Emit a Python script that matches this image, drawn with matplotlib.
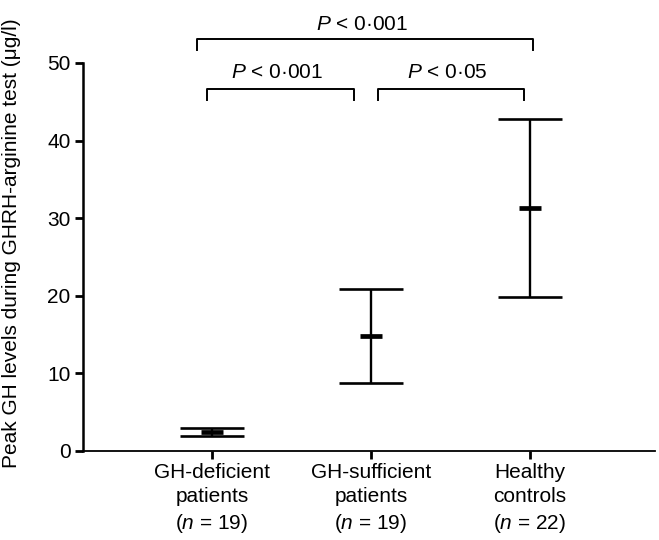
import matplotlib
matplotlib.use("Agg")
import matplotlib.pyplot as plt

plt.rcParams['font.family'] = ['Liberation Sans', 'DejaVu Sans']
plt.rcParams['mathtext.fontset'] = 'custom'
plt.rcParams['mathtext.it'] = 'Liberation Sans:italic'
plt.rcParams['mathtext.rm'] = 'Liberation Sans'

# data (mean and SD)
groups = ["GH-deficient\npatients\n($n$ = 19)",
          "GH-sufficient\npatients\n($n$ = 19)",
          "Healthy\ncontrols\n($n$ = 22)"]
means = [2.4, 14.8, 31.3]
sds = [0.5, 6.0, 11.5]
pvalues = ["$P$ < 0·001", "$P$ < 0·05", "$P$ < 0·001"]
pairs = [(0, 1), (1, 2), (0, 2)]

x = [1, 2, 3]

fig = plt.figure(figsize=(6.59, 5.4), dpi=100)
ax = fig.add_axes([0.126, 0.165, 0.868, 0.7185])

ax.errorbar(x, means, yerr=sds, fmt='none', ecolor='black',
            elinewidth=1.7, capsize=23, capthick=1.9)
# thick short bar for the mean
ax.plot(x, means, ls='none', marker='_', ms=16, mew=3.4, color='black')

ax.set_xlim(0.189, 3.786)
ax.set_ylim(0, 50)
ax.set_yticks([0, 10, 20, 30, 40, 50])
ax.set_xticks(x)
ax.set_xticklabels(groups, fontsize=15, linespacing=1.32)
ax.tick_params(axis='y', labelsize=15, length=6, width=2, pad=3)
ax.tick_params(axis='x', length=6, width=2, pad=3)

ax.spines['top'].set_visible(False)
ax.spines['right'].set_visible(False)
ax.spines['left'].set_linewidth(1.8)
ax.spines['bottom'].set_linewidth(1.3)

ax.set_ylabel("Peak GH levels during GHRH-arginine test (μg/l)", fontsize=15)
ax.yaxis.set_label_coords(-0.108, 0.535)

# significance brackets: (left offset, right offset, bar height, text height)
bracket_style = [(-0.03, -0.11, 46.65, 48.1),
                 (0.045, -0.04, 46.65, 48.1),
                 (-0.095, 0.02, 53.1, 54.3)]
drop = 1.45
for (i, j), label, (dl, dr, h, th) in zip(pairs, pvalues, bracket_style):
    x1 = x[i] + dl
    x2 = x[j] + dr
    ax.plot([x1, x1, x2, x2], [h - drop, h, h, h - drop], color='black',
            lw=1.4, clip_on=False)
    ax.text((x1 + x2) / 2 - 0.02, th, label, ha='center', va='baseline',
            fontsize=15, clip_on=False)

fig.savefig("out.png", dpi=100)
